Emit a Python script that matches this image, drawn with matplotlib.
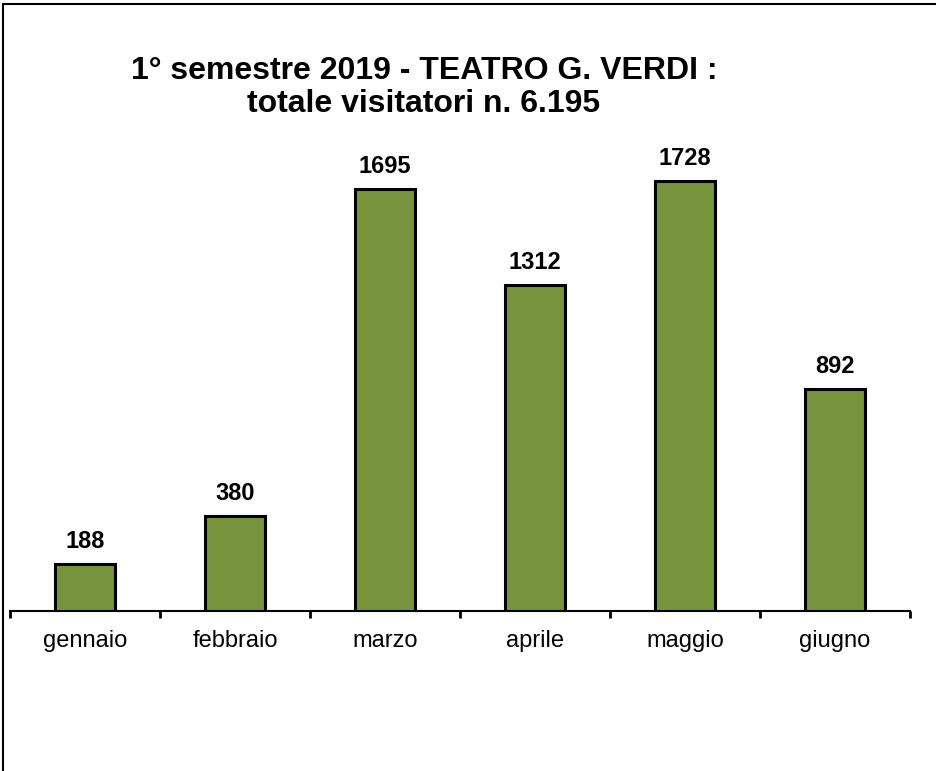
import matplotlib.pyplot as plt
from matplotlib.patches import Rectangle

mesi = ['gennaio', 'febbraio', 'marzo', 'aprile', 'maggio', 'giugno']
visitatori = [188, 380, 1695, 1312, 1728, 892]
titolo = "1° semestre 2019 - TEATRO G. VERDI :\ntotale visitatori n. 6.195"

plt.rcParams['font.family'] = ['Liberation Sans', 'DejaVu Sans']

W, H = 937, 771
fig = plt.figure(figsize=(W / 100, H / 100), dpi=100)

# cornice del grafico (lati destro e inferiore tagliati)
fig.patches.append(Rectangle((3 / W, -0.05), 1.05, 1 - 4 / H + 0.05,
                             transform=fig.transFigure, fill=False,
                             edgecolor='black', linewidth=1.5))

ax = fig.add_axes([10 / W, (H - 611) / H, 900 / W, 481 / H])
x = range(len(mesi))
bars = ax.bar(x, visitatori, width=0.4, color='#77933C',
              edgecolor='black', linewidth=2.2, zorder=3)

for xi, v in zip(x, visitatori):
    ax.annotate(str(v), (xi, v), xytext=(0, 11.5), textcoords='offset points',
                ha='center', va='baseline', fontsize=17, fontweight='bold')

ax.set_xlim(-0.5, len(mesi) - 0.5)
ax.set_ylim(0, 481 * 1728 / 430)

for s in ['top', 'right', 'left']:
    ax.spines[s].set_visible(False)
ax.spines['bottom'].set_linewidth(1.5)
ax.set_yticks([])

ax.set_xticks([i - 0.5 for i in range(len(mesi) + 1)])
ax.set_xticklabels([])
ax.tick_params(axis='x', length=5, width=2, direction='out')
ax.set_xticks(list(x), minor=True)
ax.set_xticklabels(mesi, minor=True, fontsize=17)
ax.tick_params(axis='x', which='minor', length=0, pad=14)

fig.text(424 / W, 1 - 56 / H, titolo, ha='center', va='top',
         fontsize=23, fontweight='bold', linespacing=1.12)

fig.savefig('out.png', dpi=100)
